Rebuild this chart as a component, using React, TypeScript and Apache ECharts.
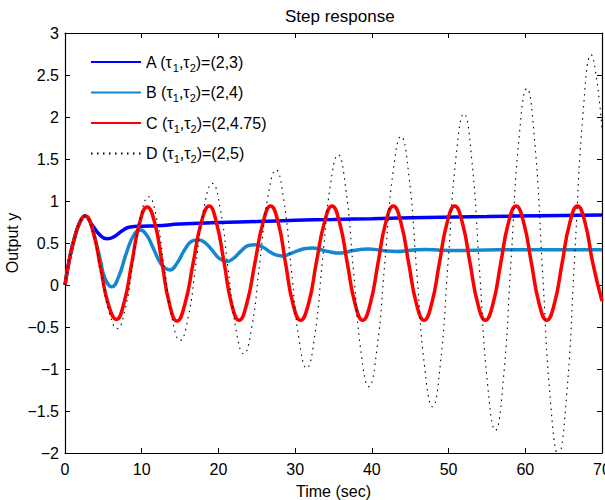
import React, { useEffect, useRef } from "react";
import * as echarts from "echarts";

const FONT = "'Liberation Sans', Arial, Helvetica, sans-serif";

const titleText = "Step response";
const xName = "Time (sec)";
const yName = "Output y";
const seriesNames = ["A", "B", "C", "D"];
const legendLabels: Record<string, string> = {
  A: "A (τ{s|1},τ{s|2})=(2,3)",
  B: "B (τ{s|1},τ{s|2})=(2,4)",
  C: "C (τ{s|1},τ{s|2})=(2,4.75)",
  D: "D (τ{s|1},τ{s|2})=(2,5)",
};

// [time, output] points
const dataA = [
  [0, 0], [0.65, 0.34], [1.3, 0.58], [2, 0.76], [2.6, 0.82], [3.5, 0.72], [4.5, 0.6],
  [5.5, 0.55], [6.5, 0.58], [7.5, 0.65], [8.5, 0.69], [10, 0.7], [12, 0.705], [15, 0.725],
  [20, 0.745], [25, 0.755], [30, 0.77], [35, 0.78], [40, 0.79], [47, 0.805], [55, 0.815],
  [62, 0.825], [70, 0.833],
];

const dataB = [
  [0, 0], [0.65, 0.34], [1.3, 0.58], [2, 0.76], [2.6, 0.82], [3.3, 0.75], [4, 0.52],
  [4.6, 0.3], [5.2, 0.08], [6.1, -0.02], [7.0, 0.1], [8.0, 0.38], [9.0, 0.6], [9.8, 0.655],
  [10.6, 0.6], [11.6, 0.42], [12.6, 0.24], [13.7, 0.18], [14.6, 0.26], [15.6, 0.42],
  [16.5, 0.52], [17.4, 0.54], [18.3, 0.5], [19.3, 0.4], [20.2, 0.31], [21.1, 0.28],
  [22, 0.32], [22.9, 0.4], [23.9, 0.47], [24.8, 0.48], [25.8, 0.45], [26.8, 0.39],
  [27.6, 0.355], [28.4, 0.345], [29.3, 0.37], [30.4, 0.41], [31.4, 0.435], [32.3, 0.44],
  [33.2, 0.425], [34.2, 0.4], [35.9, 0.38], [37.6, 0.41], [39.5, 0.43], [41.4, 0.41],
  [43.2, 0.4], [45.1, 0.413], [47, 0.423], [49, 0.415], [51, 0.412], [55, 0.417],
  [60, 0.42], [65, 0.42], [70, 0.42],
];

const dataC = [
  [0, 0], [0.65, 0.34], [1.3, 0.58], [2, 0.76], [2.6, 0.82], [3.65, 0.64], [4.65, 0.2],
  [5.65, -0.23], [6.7, -0.41], [7.7, -0.21], [8.7, 0.26], [9.7, 0.73], [10.7, 0.93],
  [11.7, 0.74], [12.65, 0.26], [13.6, -0.22], [14.6, -0.43], [15.65, -0.22], [16.7, 0.26],
  [17.75, 0.74], [18.8, 0.94], [19.75, 0.74], [20.75, 0.26], [21.7, -0.22], [22.7, -0.42],
  [23.7, -0.22], [24.75, 0.26], [25.8, 0.74], [26.8, 0.94], [27.8, 0.74], [28.75, 0.26],
  [29.7, -0.22], [30.7, -0.42], [31.75, -0.22], [32.75, 0.26], [33.8, 0.74], [34.8, 0.94],
  [35.8, 0.74], [36.8, 0.26], [37.8, -0.22], [38.8, -0.42], [39.8, -0.22], [40.8, 0.26],
  [41.8, 0.74], [42.8, 0.94], [43.8, 0.74], [44.8, 0.26], [45.8, -0.22], [46.8, -0.42],
  [47.8, -0.22], [48.8, 0.26], [49.8, 0.74], [50.8, 0.94], [51.8, 0.74], [52.8, 0.26],
  [53.8, -0.22], [54.8, -0.42], [55.8, -0.22], [56.8, 0.26], [57.8, 0.74], [58.8, 0.94],
  [59.8, 0.74], [60.8, 0.26], [61.8, -0.22], [62.8, -0.42], [63.8, -0.22], [64.8, 0.26],
  [65.8, 0.74], [66.8, 0.94], [67.8, 0.74], [68.8, 0.26], [70, -0.19],
];

const dataD = [
  [0, 0], [0.65, 0.34], [1.3, 0.58], [2, 0.76], [2.6, 0.82], [3.65, 0.62], [4.7, 0.15],
  [5.75, -0.32], [6.8, -0.52], [7.83, -0.29], [8.85, 0.265], [9.88, 0.82], [10.9, 1.05],
  [11.93, 0.8], [12.95, 0.195], [13.98, -0.41], [15.0, -0.66], [16.05, -0.386],
  [17.1, 0.275], [18.15, 0.936], [19.2, 1.21], [20.23, 0.913], [21.25, 0.195],
  [22.28, -0.523], [23.3, -0.82], [24.35, -0.5], [25.4, 0.275], [26.45, 1.05], [27.5, 1.37],
  [28.5, 1.024], [29.5, 0.19], [30.5, -0.644], [31.5, -0.99], [32.53, -0.618], [33.55, 0.28],
  [34.58, 1.178], [35.6, 1.55], [36.6, 1.146], [37.6, 0.17], [38.6, -0.806], [39.6, -1.21],
  [40.65, -0.773], [41.7, 0.28], [42.75, 1.333], [43.8, 1.77], [44.83, 1.298], [45.85, 0.16],
  [46.88, -0.978], [47.9, -1.45], [48.93, -0.939], [49.95, 0.295], [50.98, 1.529], [52.0, 2.04],
  [53.03, 1.488], [54.05, 0.155], [55.08, -1.178], [56.1, -1.73], [57.13, -1.134],
  [58.15, 0.305], [59.18, 1.744], [60.2, 2.34], [61.23, 1.701], [62.25, 0.16], [63.28, -1.381],
  [64.3, -2.02], [65.38, -1.323], [66.45, 0.36], [67.53, 2.043], [68.6, 2.74], [69.3, 2.45],
  [70, 1.85],
];

const seriesData = [dataA, dataB, dataC, dataD];
const colors = ["#0000ff", "#1587cf", "#ff0000", "#000000"];

export default function App() {
  const ref = useRef<HTMLDivElement>(null);
  useEffect(() => {
    if (!ref.current) return;
    const chart = echarts.init(ref.current, undefined, { renderer: "svg" });
    const tickStyle = { inside: true, length: 5, lineStyle: { color: "#000", width: 1 } };
    const lineStyleAxis = { show: true, onZero: false, lineStyle: { color: "#000", width: 1.2 } };
    const minus = (v: number) => String(v).replace("-", "\u2212");
    chart.setOption({
      animation: false,
      backgroundColor: "#fff",
      textStyle: { fontFamily: FONT },
      title: {
        text: titleText,
        left: 280,
        top: 3,
        textStyle: { fontFamily: FONT, fontSize: 17, fontWeight: "normal", color: "#000" },
      },
      grid: {
        left: 65,
        right: 3,
        top: 33,
        bottom: 47,
        containLabel: false,
        outerBoundsMode: "none",
      },
      legend: {
        orient: "vertical",
        left: 85,
        top: 46,
        itemWidth: 50,
        itemHeight: 14,
        itemGap: 8.5,
        data: seriesNames,
        itemStyle: { opacity: 0 },
        formatter: (name: string) => legendLabels[name],
        textStyle: {
          fontFamily: FONT,
          fontSize: 16,
          color: "#000",
          lineHeight: 22,
          rich: {
            s: { fontFamily: FONT, fontSize: 11, color: "#000", verticalAlign: "bottom", lineHeight: 12 },
          },
        },
      },
      xAxis: [
        {
          type: "value",
          min: 0,
          max: 70,
          interval: 10,
          name: xName,
          nameLocation: "middle",
          nameGap: 30,
          nameMoveOverlap: false,
          nameTextStyle: { fontFamily: FONT, fontSize: 16, color: "#000" },
          axisLine: lineStyleAxis,
          axisTick: tickStyle,
          axisLabel: { fontFamily: FONT, fontSize: 16, color: "#000", margin: 8 },
          splitLine: { show: false },
        },
        {
          type: "value",
          position: "top",
          min: 0,
          max: 70,
          interval: 10,
          axisLine: lineStyleAxis,
          axisTick: tickStyle,
          axisLabel: { show: false },
          splitLine: { show: false },
        },
      ],
      yAxis: [
        {
          type: "value",
          min: -2,
          max: 3,
          interval: 0.5,
          name: yName,
          nameLocation: "middle",
          nameGap: 45,
          nameRotate: 90,
          nameMoveOverlap: false,
          nameTextStyle: { fontFamily: FONT, fontSize: 16, color: "#000" },
          axisLine: lineStyleAxis,
          axisTick: tickStyle,
          axisLabel: { fontFamily: FONT, fontSize: 16, color: "#000", margin: 6, formatter: minus },
          splitLine: { show: false },
        },
        {
          type: "value",
          position: "right",
          min: -2,
          max: 3,
          interval: 0.5,
          axisLine: lineStyleAxis,
          axisTick: tickStyle,
          axisLabel: { show: false },
          splitLine: { show: false },
        },
      ],
      series: seriesNames.map((name, i) => ({
        name,
        type: "line",
        xAxisIndex: 0,
        yAxisIndex: 0,
        data: seriesData[i],
        smooth: 0.5,
        symbol: "none",
        showSymbol: false,
        clip: true,
        color: colors[i],
        lineStyle:
          i === 3
            ? { color: colors[i], width: 1.1, type: [1.5, 4.5] }
            : { color: colors[i], width: 3.5 },
      })),
    });
    return () => chart.dispose();
  }, []);
  return (
    <div
      ref={ref}
      style={{ position: "absolute", left: 0, top: 0, width: 605, height: 500 }}
    />
  );
}
